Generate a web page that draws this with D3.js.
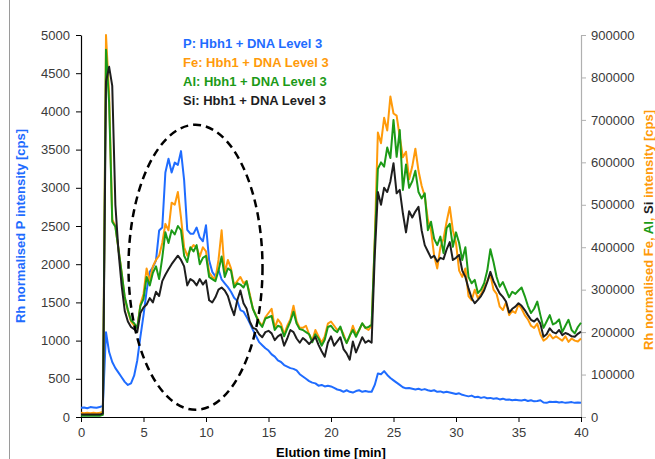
<!DOCTYPE html>
<html>
<head>
<meta charset="utf-8">
<script src="https://cdn.jsdelivr.net/npm/d3@7"></script>
<style>
  body { margin: 0; background: #fff; }
  svg { display: block; font-family: "Liberation Sans", Arial, sans-serif; }
</style>
</head>
<body>
<script>
// elution time [min], one reading every 0.25 min
const time = [
  0,0.25,0.5,0.75,1,1.25,1.5,1.75,2,2.25,2.5,2.75,3,3.25,3.5,3.75,4,4.25,4.5,4.75,
  5,5.25,5.5,5.75,6,6.25,6.5,6.75,7,7.25,7.5,7.75,8,8.25,8.5,8.75,9,9.25,9.5,9.75,
  10,10.25,10.5,10.75,11,11.25,11.5,11.75,12,12.25,12.5,12.75,13,13.25,13.5,13.75,14,14.25,14.5,14.75,
  15,15.25,15.5,15.75,16,16.25,16.5,16.75,17,17.25,17.5,17.75,18,18.25,18.5,18.75,19,19.25,19.5,19.75,
  20,20.25,20.5,20.75,21,21.25,21.5,21.75,22,22.25,22.5,22.75,23,23.25,23.5,23.75,24,24.25,24.5,24.75,
  25,25.25,25.5,25.75,26,26.25,26.5,26.75,27,27.25,27.5,27.75,28,28.25,28.5,28.75,29,29.25,29.5,29.75,
  30,30.25,30.5,30.75,31,31.25,31.5,31.75,32,32.25,32.5,32.75,33,33.25,33.5,33.75,34,34.25,34.5,34.75,
  35,35.25,35.5,35.75,36,36.25,36.5,36.75,37,37.25,37.5,37.75,38,38.25,38.5,38.75,39,39.25,39.5,39.75,
  40
];

// P, left axis [cps]
const pVals = [
  120,125,115,130,125,120,130,150,1110,850,720,640,580,520,460,420,440,540,740,1050,
  1330,1650,1900,1960,2050,2440,2480,3200,3380,3200,3330,3300,3480,3100,2450,2400,2400,2480,2350,2300,
  2510,2050,1900,1840,1930,1800,1750,1700,1640,1560,1520,1400,1380,1310,1230,1140,1060,980,940,900,
  870,820,790,740,720,680,660,640,630,610,560,530,500,470,450,440,410,420,400,410,
  400,380,360,350,330,350,330,320,340,350,330,340,330,330,420,570,560,600,550,510,
  480,450,420,390,375,380,370,360,370,355,365,350,340,350,330,335,320,330,320,310,
  300,310,290,280,270,280,260,265,250,260,245,250,240,245,230,240,225,230,220,225,
  220,215,225,210,220,205,210,220,190,185,200,195,200,190,195,185,190,195,185,190,
  185
];

// Fe, right axis [cps]
const feVals = [
  10000,9000,10000,9000,10000,9000,10000,12000,900000,760000,465000,450000,395000,340000,280000,250000,225000,215000,210000,265000,
  290000,350000,320000,355000,370000,380000,410000,455000,440000,505000,500000,530000,470000,400000,380000,395000,405000,400000,378000,400000,
  390000,340000,330000,325000,370000,440000,340000,370000,350000,310000,320000,330000,315000,320000,290000,255000,240000,225000,215000,235000,
  245000,255000,210000,230000,220000,195000,215000,230000,262000,225000,210000,210000,215000,195000,180000,205000,190000,175000,190000,220000,
  225000,215000,205000,210000,195000,175000,190000,215000,195000,205000,220000,210000,205000,215000,420000,670000,645000,705000,675000,755000,
  715000,710000,660000,612000,625000,560000,590000,632000,580000,545000,520000,465000,440000,380000,350000,400000,420000,460000,495000,440000,
  410000,345000,330000,350000,285000,275000,300000,280000,290000,305000,320000,335000,300000,290000,260000,252000,270000,240000,250000,245000,
  265000,255000,240000,230000,215000,210000,220000,195000,180000,185000,195000,185000,190000,185000,180000,190000,177000,185000,180000,178000,
  185000
];

// Al, right axis [cps]
const alVals = [
  3000,3000,3000,3000,3000,3000,3000,5000,865000,740000,460000,448000,395000,340000,283000,252000,228000,221000,210000,262000,
  278000,330000,310000,340000,355000,325000,375000,435000,410000,440000,430000,450000,440000,380000,365000,400000,390000,405000,360000,375000,
  380000,330000,325000,320000,345000,378000,330000,350000,345000,305000,315000,312000,305000,320000,285000,255000,238000,222000,212000,232000,
  235000,238000,205000,215000,212000,190000,208000,225000,248000,220000,207000,205000,200000,195000,176000,195000,185000,168000,182000,212000,
  215000,205000,200000,213000,190000,174000,192000,205000,189000,205000,221000,210000,212000,218000,410000,585000,600000,590000,635000,610000,
  700000,613000,676000,535000,595000,540000,555000,580000,530000,515000,527000,440000,460000,420000,405000,425000,386000,445000,455000,401000,
  435000,410000,370000,400000,330000,315000,323000,292000,300000,315000,345000,395000,365000,330000,307000,318000,300000,282000,295000,290000,
  298000,305000,285000,262000,245000,255000,272000,240000,210000,225000,240000,218000,222000,230000,200000,215000,229000,205000,197000,212000,
  222000
];

// Si, right axis [cps]
const siVals = [
  6000,6000,6000,6000,6000,6000,6000,8000,790000,825000,780000,500000,390000,310000,250000,225000,212000,207000,200000,245000,
  258000,265000,280000,270000,295000,285000,320000,335000,348000,360000,370000,380000,370000,355000,310000,325000,320000,310000,325000,312000,
  322000,275000,270000,282000,300000,305000,298000,285000,260000,240000,275000,298000,268000,255000,225000,210000,207000,195000,188000,200000,
  203000,197000,181000,190000,195000,168000,185000,205000,200000,185000,175000,186000,180000,172000,180000,189000,170000,155000,142000,175000,
  190000,168000,178000,188000,160000,150000,135000,178000,152000,170000,188000,175000,180000,175000,380000,530000,500000,540000,530000,555000,
  598000,527000,535000,480000,435000,485000,470000,484000,495000,440000,405000,390000,375000,380000,366000,375000,372000,395000,412000,370000,
  375000,382000,345000,330000,303000,280000,268000,276000,285000,298000,318000,342000,320000,305000,291000,283000,272000,246000,255000,260000,
  268000,262000,252000,240000,229000,225000,232000,220000,189000,195000,209000,200000,197000,205000,193000,198000,195000,190000,189000,196000,
  201000
];

const legendLabels = ["P: Hbh1 + DNA Level 3", "Fe: Hbh1 + DNA Level 3", "Al: Hbh1 + DNA Level 3", "Si: Hbh1 + DNA Level 3"];
const xTicks = [0, 5, 10, 15, 20, 25, 30, 35, 40];
const leftTicks = [0, 500, 1000, 1500, 2000, 2500, 3000, 3500, 4000, 4500, 5000];
const rightTicks = [0, 100000, 200000, 300000, 400000, 500000, 600000, 700000, 800000, 900000];

// dashed ring around the 5-14 min region (centre time, centre P, radii)
const ringT = 9.16, ringP = 1960, ringRT = 5.36, ringRP = 1865;

const width = 655, height = 459;
const plotLeft = 81, plotRight = 581, plotTop = 35, plotBottom = 417;

const blue = "#1f6cff", orange = "#ff9a0a", green = "#1c9a17", black = "#1e1e1e";

const svg = d3.select("body").append("svg")
  .attr("width", width)
  .attr("height", height);

svg.append("rect").attr("width", width).attr("height", height).attr("fill", "#fff");
svg.append("line")
  .attr("x1", 9.5).attr("x2", 9.5).attr("y1", 0).attr("y2", height)
  .attr("stroke", "#9a9a9a").attr("stroke-width", 1);

const xScale = d3.scaleLinear().domain([0, 40]).range([plotLeft, plotRight]);
const yLeft = d3.scaleLinear().domain([0, 5000]).range([plotBottom, plotTop]);
const yRight = d3.scaleLinear().domain([0, 900000]).range([plotBottom, plotTop]);

// axes
const styleTicks = (g, color) => {
  g.selectAll("text")
   .attr("fill", "#3a3a3a")
   .style("font-size", "13px");
  g.selectAll("line").attr("stroke", color);
  g.select(".domain").attr("stroke", color).attr("stroke-width", 1.2);
};

svg.append("g")
   .attr("transform", "translate(" + plotRight + ",0)")
   .call(d3.axisRight(yRight).tickValues(rightTicks).tickSize(5).tickSizeOuter(0).tickPadding(5).tickFormat(d3.format("d")))
   .call(g => styleTicks(g, "#b0b0b0"));

svg.append("g")
   .attr("transform", "translate(" + plotLeft + ",0)")
   .call(d3.axisLeft(yLeft).tickValues(leftTicks).tickSize(5).tickSizeOuter(0).tickPadding(6).tickFormat(d3.format("d")))
   .call(g => styleTicks(g, "#000"));

svg.append("g")
   .attr("transform", "translate(0," + plotBottom + ")")
   .call(d3.axisBottom(xScale).tickValues(xTicks).tickSize(5).tickSizeOuter(0).tickPadding(6))
   .call(g => styleTicks(g, "#000"));

// series
const lineRight = d3.line().x((d, i) => xScale(time[i])).y(d => yRight(d));
const lineLeft = d3.line().x((d, i) => xScale(time[i])).y(d => yLeft(d));

const series = [
  { vals: pVals, color: blue, gen: lineLeft },
  { vals: feVals, color: orange, gen: lineRight },
  { vals: alVals, color: green, gen: lineRight },
  { vals: siVals, color: black, gen: lineRight }
];

svg.selectAll("path.series")
   .data(series)
   .enter()
   .append("path")
   .attr("class", "series")
   .attr("d", d => d.gen(d.vals))
   .attr("fill", "none")
   .attr("stroke", d => d.color)
   .attr("stroke-width", 2)
   .attr("stroke-linejoin", "round");

// dashed ring
svg.append("ellipse")
   .attr("cx", xScale(ringT))
   .attr("cy", yLeft(ringP))
   .attr("rx", xScale(ringT + ringRT) - xScale(ringT))
   .attr("ry", yLeft(0) - yLeft(ringRP))
   .attr("fill", "none")
   .attr("stroke", "#000")
   .attr("stroke-width", 2.5)
   .attr("stroke-dasharray", "8,5");

// legend
svg.selectAll("text.legend")
   .data(legendLabels)
   .enter()
   .append("text")
   .attr("class", "legend")
   .attr("x", 183)
   .attr("y", (d, i) => 47.5 + i * 19)
   .attr("fill", (d, i) => [blue, orange, green, black][i])
   .style("font-size", "13px")
   .style("font-weight", "bold")
   .text(d => d);

// axis titles
svg.append("text")
   .attr("transform", "translate(24.5," + ((plotTop + plotBottom) / 2) + ") rotate(-90)")
   .attr("text-anchor", "middle")
   .attr("fill", blue)
   .style("font-size", "13px")
   .style("font-weight", "bold")
   .text("Rh normalised P intensity [cps]");

const rightTitle = svg.append("text")
   .attr("transform", "translate(652.5,230) rotate(-90)")
   .attr("text-anchor", "middle")
   .style("font-size", "13px")
   .style("font-weight", "bold");
[["Rh normalised Fe, ", orange], ["Al", green], [", ", orange], ["Si", black], [" intensity [cps]", orange]]
  .forEach(([t, c]) => rightTitle.append("tspan").attr("fill", c).text(t));

svg.append("text")
   .attr("x", (plotLeft + plotRight) / 2)
   .attr("y", 456.5)
   .attr("text-anchor", "middle")
   .attr("fill", "#000")
   .style("font-size", "13px")
   .style("font-weight", "bold")
   .text("Elution time [min]");
</script>
</body>
</html>
